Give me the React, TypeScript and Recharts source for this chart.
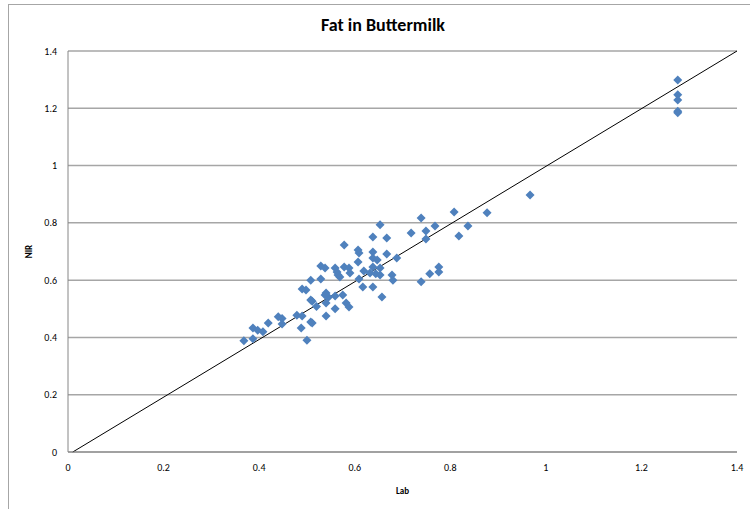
import React from "react";
import {
  ScatterChart,
  Scatter,
  XAxis,
  YAxis,
  CartesianGrid,
  ReferenceLine,
} from "recharts";

// Lab reference values vs NIR predictions (fat %)
const labValues = [
  0.368, 0.387, 0.387, 0.397, 0.408, 0.419, 0.44, 0.448, 0.448, 0.479,
  0.49, 0.488, 0.5, 0.508, 0.511, 0.54, 0.559, 0.511, 0.52, 0.49,
  0.498, 0.508, 0.508, 0.529, 0.529, 0.538, 0.54, 0.54, 0.545, 0.559,
  0.575, 0.538, 0.559, 0.563, 0.565, 0.569, 0.578, 0.588, 0.59, 0.578,
  0.582, 0.588, 0.607, 0.609, 0.607, 0.609, 0.619, 0.617, 0.638, 0.638,
  0.638, 0.638, 0.647, 0.638, 0.632, 0.644, 0.653, 0.653, 0.653, 0.657,
  0.667, 0.667, 0.678, 0.68, 0.688, 0.718, 0.739, 0.749, 0.749, 0.739,
  0.757, 0.776, 0.776, 0.768, 0.808, 0.818, 0.837, 0.877, 0.967, 1.276,
  1.276, 1.276, 1.276, 1.276,
];

const nirValues = [
  0.388, 0.395, 0.433, 0.425, 0.42, 0.45, 0.472, 0.466, 0.447, 0.477,
  0.475, 0.433, 0.39, 0.454, 0.45, 0.475, 0.5, 0.526, 0.508, 0.569,
  0.566, 0.531, 0.6, 0.604, 0.649, 0.642, 0.555, 0.52, 0.54, 0.545,
  0.548, 0.548, 0.642, 0.628, 0.618, 0.611, 0.646, 0.642, 0.625, 0.723,
  0.52, 0.506, 0.705, 0.695, 0.663, 0.604, 0.632, 0.576, 0.576, 0.751,
  0.698, 0.677, 0.67, 0.646, 0.625, 0.622, 0.793, 0.642, 0.618, 0.541,
  0.747, 0.691, 0.618, 0.6, 0.677, 0.765, 0.817, 0.772, 0.744, 0.594,
  0.622, 0.646, 0.628, 0.789, 0.838, 0.754, 0.789, 0.835, 0.897, 1.299,
  1.247, 1.229, 1.19, 1.184,
];

const axisTicks = [0, 0.2, 0.4, 0.6, 0.8, 1, 1.2, 1.4];

const data = labValues.map((lab, i) => ({ lab, nir: nirValues[i] }));

const Diamond = (props: any) => {
  const { cx, cy } = props;
  const r = 4.5;
  return (
    <polygon
      points={`${cx},${cy - r} ${cx + r},${cy} ${cx},${cy + r} ${cx - r},${cy}`}
      fill="#4F81BD"
    />
  );
};

const font = "Calibri, 'Open Sans', 'Liberation Sans', sans-serif";

export default function App() {
  return (
    <div
      style={{
        position: "absolute",
        left: 0,
        top: 0,
        width: 750,
        height: 509,
        overflow: "hidden",
        background: "#fff",
        fontFamily: font,
      }}
    >
      <div
        style={{
          position: "absolute",
          left: 8,
          top: 4,
          width: 800,
          height: 600,
          border: "1.5px solid #a6a6a6",
        }}
      />
      <div
        style={{
          position: "absolute",
          left: 8,
          width: 750,
          top: 14,
          textAlign: "center",
          fontSize: 18,
          fontWeight: 700,
          color: "#000",
        }}
      >
        Fat in Buttermilk
      </div>
      <div style={{ position: "absolute", left: 0, top: 0 }}>
        <ScatterChart
          width={750}
          height={509}
          margin={{ top: 51, right: 13, left: 28, bottom: 27 }}
        >
          <CartesianGrid horizontal vertical={false} stroke="#a6a6a6" strokeWidth={1.5} />
          <XAxis
            type="number"
            dataKey="lab"
            domain={[0, 1.4]}
            ticks={axisTicks}
            height={30}
            stroke="#868686"
            tickLine={false}
            tickSize={8}
            tickMargin={4}
            tick={{ fill: "#000", fontSize: 10, fontFamily: font }}
            label={{
              value: "Lab",
              position: "insideBottom",
              offset: -12,
              style: { fill: "#000", fontSize: 9, fontWeight: 700, fontFamily: font },
            }}
          />
          <YAxis
            type="number"
            dataKey="nir"
            domain={[0, 1.4]}
            ticks={axisTicks}
            width={40}
            stroke="#868686"
            tickLine={false}
            tickSize={8}
            tickMargin={3}
            tick={{ fill: "#000", fontSize: 10, fontFamily: font }}
            label={{
              value: "NIR",
              angle: -90,
              position: "insideLeft",
              offset: 1,
              style: { textAnchor: "middle", fill: "#000", fontSize: 9, fontWeight: 700, fontFamily: font },
            }}
          />
          <ReferenceLine
            segment={[
              { x: 0.01, y: 0 },
              { x: 1.4, y: 1.4 },
            ]}
            stroke="#000"
            strokeWidth={1}
          />
          <Scatter data={data} shape={Diamond} isAnimationActive={false} />
        </ScatterChart>
      </div>
    </div>
  );
}
